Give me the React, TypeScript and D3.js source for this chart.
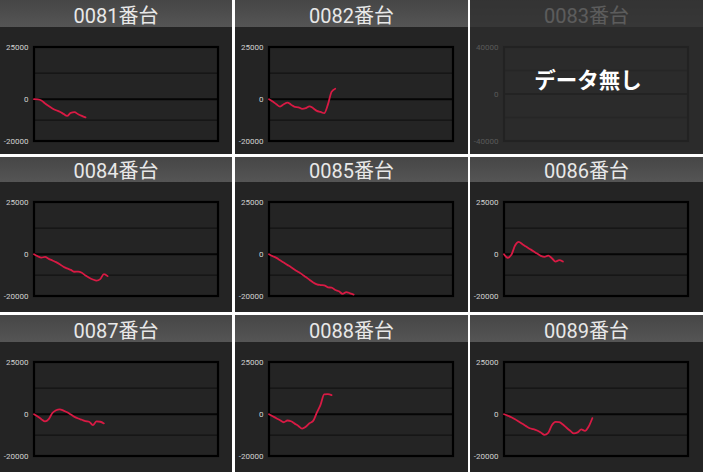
import React from 'react';
import * as d3 from 'd3';

const WIDTH = 703;
const HEIGHT = 472;

// machine names, one per panel (row-major)
const machines = ['0081番台', '0082番台', '0083番台', '0084番台', '0085番台', '0086番台', '0087番台', '0088番台', '0089番台'];
const yTops = [25000, 25000, 40000, 25000, 25000, 25000, 25000, 25000, 25000];
const yBottoms = [-20000, -20000, -40000, -20000, -20000, -20000, -20000, -20000, -20000];
const STEPS = 50; // samples across the full plot width

// balance per sample
const diff0081 = [0, -100, -600, -2000, -3300, -4400, -5300, -6000, -7000, -8000, -6500, -6200, -7200, -8000, -8700];
const diff0082 = [0, -1100, -2400, -3500, -2400, -1600, -2600, -3700, -3850, -4600, -4300, -3400, -4300, -5600, -6100, -6700, -2600, 3500, 5000];
const diff0083: number[] = [];
const diff0084 = [0, -950, -1600, -1300, -2200, -3000, -3800, -4800, -6000, -6800, -7500, -8400, -8300, -8900, -10200, -11300, -12100, -12600, -11900, -9500, -10500];
const diff0085 = [0, -950, -1750, -2850, -3950, -5100, -6200, -7450, -8550, -9650, -10950, -12200, -13500, -14400, -14750, -14900, -15850, -16000, -17100, -17750, -19000, -18100, -18700, -19300];
const diff0086 = [0, -1700, -300, 4150, 5900, 4800, 3650, 2550, 1450, 300, -800, -1300, -650, -1900, -3500, -2850, -3500];
const diff0087 = [0, -1100, -2350, -3450, -2350, 600, 1900, 2350, 1750, 950, -150, -1250, -2050, -2650, -3300, -3600, -5200, -3450, -3600, -4400];
const diff0088 = [0, -950, -1900, -2900, -3850, -3000, -3350, -4500, -5600, -6900, -6000, -4350, -3200, 800, 4500, 9500, 9650, 9150];
const diff0089 = [0, -650, -1450, -2400, -3500, -4600, -5700, -6700, -7150, -7800, -8750, -9850, -8900, -5250, -3650, -3800, -4900, -6500, -7950, -9200, -8700, -7300, -7950, -5900, -1900];

const series = [diff0081, diff0082, diff0083, diff0084, diff0085, diff0086, diff0087, diff0088, diff0089];

// layout
const colX = [0, 235, 470];
const colW = [232, 233, 233];
const rowY = [0, 157, 315];
const rowH = [154, 155, 157];
const headerH = [27, 25, 27];
const PLOT_LEFT = 34;
const PLOT_RIGHT = 218;

const LINE_COLOR = '#d81a44';

const Panel: React.FC<{ idx: number }> = ({ idx }) => {
  const col = idx % 3;
  const row = Math.floor(idx / 3);
  const w = colW[col];
  const h = rowH[row];
  const hb = headerH[row];
  const plotTop = hb + 20;
  const plotBottom = hb + 114;
  const top = yTops[idx];
  const bottom = yBottoms[idx];
  const data = series[idx];
  const empty = data.length === 0;

  const x = d3.scaleLinear().domain([0, STEPS]).range([PLOT_LEFT, PLOT_RIGHT]);
  const y = d3.scaleLinear().domain([bottom, top]).range([plotBottom, plotTop]);
  const grid = [top, top / 2, 0, bottom / 2, bottom];
  const labels = [top, 0, bottom];

  const line = d3.line<number>()
    .x((_, i) => x(i))
    .y((d) => y(d))
    .curve(d3.curveMonotoneX);

  return (
    <g transform={`translate(${colX[col]},${rowY[row]})`}>
      <rect width={w} height={h} fill="#242424" />
      <rect width={w} height={hb} fill="url(#hdr)" />
      <text x={w / 2} y={hb - 4} textAnchor="middle" fontSize={20}
        fontFamily="Roboto, 'Noto Sans CJK JP', sans-serif" fill="#e8e8e8">
        {machines[idx]}
      </text>

      {grid.map((v, i) => (
        <line key={i} x1={PLOT_LEFT} x2={PLOT_RIGHT} y1={y(v)} y2={y(v)}
          stroke={v === 0 ? '#050505' : '#121212'}
          strokeWidth={v === 0 ? 2 : 1.3} />
      ))}
      <rect x={PLOT_LEFT} y={plotTop} width={PLOT_RIGHT - PLOT_LEFT} height={plotBottom - plotTop}
        fill="none" stroke="#000" strokeWidth={2.2} />

      {labels.map((v, i) => (
        <text key={i} x={PLOT_LEFT - 5.5} y={y(v)} dy="0.35em" textAnchor="end"
          fontSize={8} fontFamily="Roboto, sans-serif" fill="#d2d2d2">
          {v}
        </text>
      ))}

      {!empty && (
        <path d={line(data) ?? ''} fill="none" stroke={LINE_COLOR} strokeWidth={1.8}
          strokeLinejoin="round" strokeLinecap="round" />
      )}

      {empty && (
        <>
          <rect width={w} height={h} fill="rgb(46,46,46)" opacity={0.75} />
          <text x={w / 2 + 1.5} y={plotTop + 41} textAnchor="middle" fontSize={21.5}
            fontWeight="bold" fontFamily="'Noto Sans CJK JP', sans-serif" fill="#ffffff">
            データ無し
          </text>
        </>
      )}
    </g>
  );
};

export default function App() {
  return (
    <svg width={WIDTH} height={HEIGHT}
      style={{ position: 'absolute', left: 0, top: 0, display: 'block' }}>
      <defs>
        <linearGradient id="hdr" x1="0" y1="0" x2="0" y2="1">
          <stop offset="0" stopColor="#464646" />
          <stop offset="1" stopColor="#555555" />
        </linearGradient>
      </defs>
      <rect width={WIDTH} height={HEIGHT} fill="#ffffff" />
      {machines.map((_, i) => (
        <Panel key={i} idx={i} />
      ))}
    </svg>
  );
}
